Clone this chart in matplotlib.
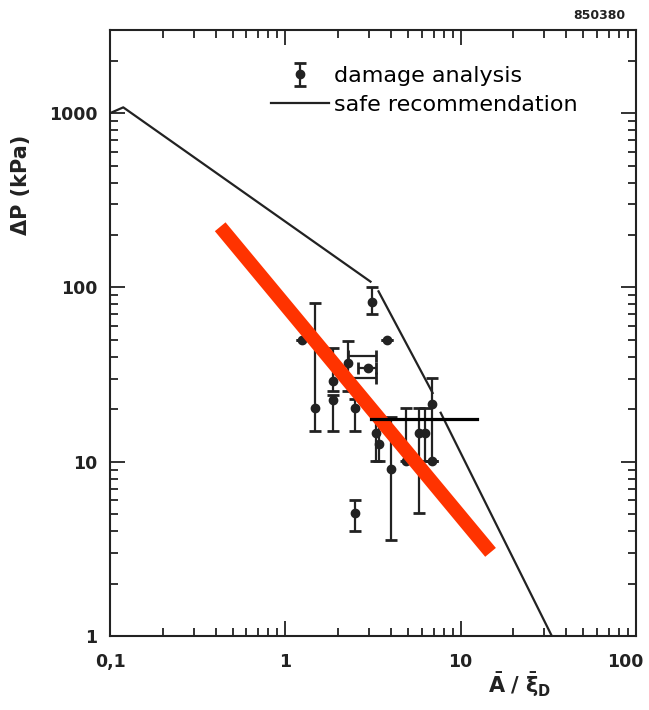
import numpy as np
import matplotlib.pyplot as plt
from matplotlib.transforms import ScaledTranslation

# damage analysis: points with vertical error bars (nan = no bar)
pt_x = [1.25, 1.48, 1.88, 1.88, 2.29, 2.51, 2.48, 3.13, 3.78, 3.27, 3.40, 3.98, 4.90, 5.75, 6.30, 6.90, 6.90]
pt_y = [50.0, 20.3, 29.0, 22.6, 36.8, 20.3, 5.1, 83.0, 50.0, 14.6, 12.7, 9.1, 10.1, 14.6, 14.6, 21.4, 10.1]
pt_lo = [np.nan, 15.0, 25.5, 15.0, 25.5, 15.0, 4.03, 70.0, np.nan, 10.1, 10.1, 3.54, 10.1, 5.1, 10.1, 10.1, np.nan]
pt_hi = [np.nan, 81.0, 44.8, 24.0, 49.1, 23.0, 6.07, 100.0, np.nan, 17.6, 17.6, 18.0, 20.3, 20.3, 20.3, 30.2, np.nan]

# horizontal error bars around x ~ 3
hb_x = [2.95, 2.75, 2.75]
hb_y = [34.5, 40.3, 30.2]
hb_lo = [2.60, 2.29, 2.29]
hb_hi = [3.31, 3.31, 3.31]

# safe recommendation (broken into pieces like the scan)
safe_x = [0.1, 0.119, 3.06, np.nan, 3.40, 6.92, np.nan, 7.69, 33.1]
safe_y = [1000, 1080, 108, np.nan, 95, 24.8, np.nan, 19.1, 1.0]

# overlays
red_x = [0.425, 14.8]
red_y = [223, 3.02]
blk_x = [3.10, 12.4]
blk_y = [17.5, 17.5]

x_ticks = [0.1, 1, 10, 100]
x_labels = ['0,1', '1', '10', '100']
y_ticks = [1, 10, 100, 1000]
y_labels = ['1', '10', '100', '1000']

plt.rcParams['font.family'] = ['DejaVu Sans']

fig = plt.figure(figsize=(6.49, 7.10), dpi=100)
ax = fig.add_axes([0.1695, 0.1042, 0.8105, 0.8535])

ax.set_xscale('log')
ax.set_yscale('log')
ax.set_xlim(0.1, 100)
ax.set_ylim(1, 3000)

x = np.array(pt_x)
y = np.array(pt_y)
yerr = np.array([y - np.array(pt_lo), np.array(pt_hi) - y])
yerr = np.nan_to_num(yerr)
eb = ax.errorbar(x, y, yerr=yerr, fmt='o', color='#222222', ms=6, elinewidth=1.6,
                 capsize=4, capthick=2, label='damage analysis')

hx = np.array(hb_x)
xerr = np.array([hx - np.array(hb_lo), np.array(hb_hi) - hx])
ax.errorbar(hx[:1], hb_y[:1], xerr=xerr[:, :1], fmt='o', color='#222222', ms=6,
            elinewidth=1.6, capsize=4, capthick=2)
ax.errorbar(hx[1:], hb_y[1:], xerr=xerr[:, 1:], fmt='none', ecolor='#222222',
            elinewidth=1.6, capsize=4, capthick=2)

ln, = ax.plot(safe_x, safe_y, color='#222222', lw=1.6, label='safe recommendation')

ax.plot(red_x, red_y, color='#ff3300', lw=10, solid_capstyle='butt', zorder=5)
ax.plot(blk_x, blk_y, color='black', lw=2.3, zorder=6)

ax.set_xticks(x_ticks)
ax.set_xticklabels(x_labels)
ax.set_yticks(y_ticks)
ax.set_yticklabels(y_labels)
ax.tick_params(which='both', direction='in', top=True, right=True, width=1.3, colors='#222222')
ax.tick_params(which='major', length=11, labelsize=12.5)
ax.tick_params(axis='x', which='major', pad=12)
ax.tick_params(axis='y', which='major', pad=9)
ax.tick_params(which='minor', length=6)
for lbl in ax.get_xticklabels() + ax.get_yticklabels():
    lbl.set_fontweight('bold')
# the scanned "100" sits a bit left of its tick
last = ax.get_xticklabels()[-1]
last.set_transform(last.get_transform() + ScaledTranslation(-8 / 72, 0, fig.dpi_scale_trans))
for s in ax.spines.values():
    s.set_linewidth(1.5)
    s.set_color('#222222')

ax.legend(handles=[eb, ln], loc='upper left', bbox_to_anchor=(0.29, 0.955),
          frameon=False, fontsize=16, handlelength=2.6, handletextpad=0.2,
          labelspacing=0.38, borderaxespad=0)

fig.text(0.032, 0.74, 'ΔP (kPa)', rotation=90, fontsize=15, fontweight='bold',
         ha='center', va='center', color='#222222')
fig.text(0.80, 0.035, r'$\mathbf{\bar{A}\ /\ \bar{\xi}_D}$', fontsize=15,
         ha='center', va='center', color='#222222')
fig.text(0.963, 0.978, '850380', fontsize=9, fontweight='bold', ha='right',
         va='center', color='#222222')

plt.savefig('out.png', dpi=100)
